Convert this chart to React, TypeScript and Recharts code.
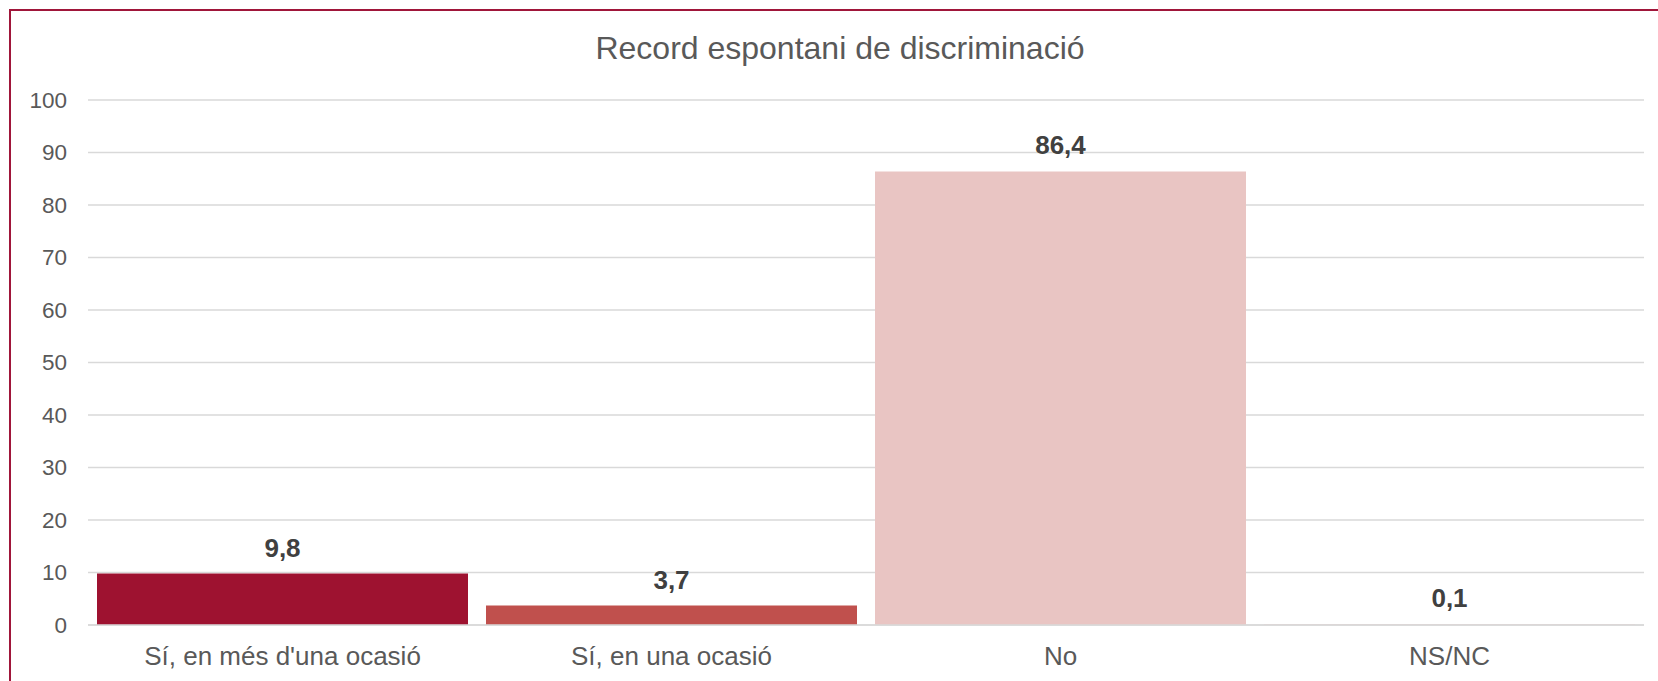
import React from "react";
import { BarChart, Bar, XAxis, YAxis, CartesianGrid, LabelList, Cell } from "recharts";

const categories = ["Sí, en més d'una ocasió", "Sí, en una ocasió", "No", "NS/NC"];
const values = [9.8, 3.7, 86.4, 0.1];
const valueLabels = ["9,8", "3,7", "86,4", "0,1"];
const barColors = ["#9E1230", "#C0504D", "#E9C5C3", "#E9C5C3"];
const yTicks = [0, 10, 20, 30, 40, 50, 60, 70, 80, 90, 100];
const title = "Record espontani de discriminació";

const data = categories.map((c, i) => ({ name: c, value: values[i], label: valueLabels[i] }));

const FONT = "'Liberation Sans', Arial, sans-serif";

export default function App() {
  return (
    <div style={{ position: "fixed", left: 0, top: 0, width: 1658, height: 681, overflow: "hidden", background: "#fff", fontFamily: FONT }}>
      <div
        style={{
          position: "absolute",
          left: 9,
          top: 9,
          width: 1680,
          height: 720,
          borderTop: "2px solid #A0163A",
          borderLeft: "2px solid #A0163A",
        }}
      />
      <div
        style={{
          position: "absolute",
          left: 440,
          width: 800,
          top: 30,
          textAlign: "center",
          fontSize: 32,
          lineHeight: "37px",
          color: "#595959",
        }}
      >
        {title}
      </div>
      <div style={{ position: "absolute", left: 0, top: 0 }}>
        <BarChart
          width={1658}
          height={681}
          data={data}
          margin={{ top: 100, right: 14, bottom: 16, left: 28 }}
          barCategoryGap={9}
        >
          <CartesianGrid vertical={false} stroke="#D9D9D9" strokeWidth={1.3} />
          <XAxis
            dataKey="name"
            height={40}
            tickLine={false}
            axisLine={{ stroke: "#D9D9D9", strokeWidth: 1.3 }}
            tickMargin={16}
            tick={{ fill: "#595959", fontSize: 26, fontFamily: FONT }}
            interval={0}
          />
          <YAxis
            width={60}
            domain={[0, 100]}
            ticks={yTicks}
            tickLine={false}
            axisLine={false}
            tickMargin={15}
            tick={{ fill: "#595959", fontSize: 22.5, fontFamily: FONT }}
          />
          <Bar dataKey="value" isAnimationActive={false}>
            {data.map((d, i) => (
              <Cell key={d.name} fill={barColors[i]} />
            ))}
            <LabelList
              dataKey="label"
              position="top"
              offset={17}
              style={{ fill: "#404040", fontSize: 26, fontWeight: "bold", fontFamily: FONT }}
            />
          </Bar>
        </BarChart>
      </div>
    </div>
  );
}
